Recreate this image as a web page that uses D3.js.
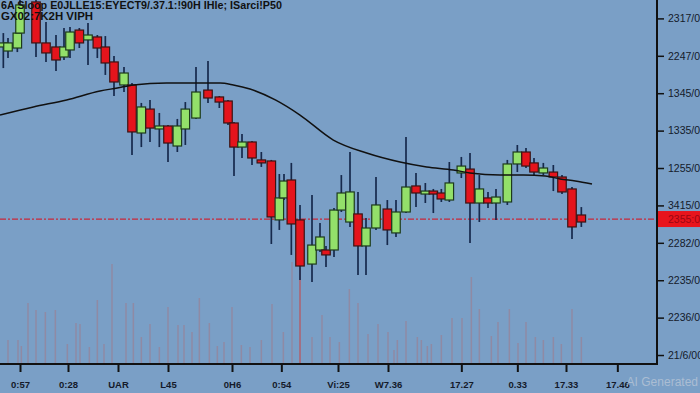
<!DOCTYPE html>
<html>
<head>
<meta charset="utf-8">
<script src="https://cdn.jsdelivr.net/npm/d3@7"></script>
<style>
  html, body { margin: 0; padding: 0; background: #7a9fc6; }
  svg { display: block; }
  .axis text { font-family: "Liberation Sans", Arial, sans-serif; }
</style>
</head>
<body>
<div id="chart"></div>
<script>
// 캔들 데이터 (분 단위 시간, 가격)
const candleTime  = [5, 12, 26, 30, 54, 69, 84, 96, 105, 119, 132, 146, 158, 171, 186, 198, 212, 225, 239, 252, 266, 278, 294, 312, 329, 342, 351, 363, 378, 392, 407, 419, 426, 437, 450, 468, 480, 489, 501, 512, 525, 537, 549, 564, 581, 594, 609, 624, 638, 650, 662, 674, 692, 705, 719, 732, 744, 761, 776, 789, 801, 815, 830, 843, 858, 872];
const candleOpen  = [2205.9, 2203.2, 2205.2, 2215.2, 2236.0, 2208.6, 2205.9, 2199.2, 2203.9, 2217.2, 2210.6, 2212.6, 2205.9, 2195.9, 2180.5, 2180.5, 2148.4, 2164.4, 2151.1, 2153.1, 2139.7, 2151.1, 2158.4, 2177.1, 2172.5, 2169.8, 2155.1, 2139.0, 2142.4, 2130.4, 2129.7, 2090.3, 2105.0, 2117.0, 2090.3, 2060.8, 2070.2, 2070.2, 2070.2, 2096.9, 2088.9, 2094.3, 2072.9, 2084.9, 2097.6, 2081.6, 2095.6, 2113.0, 2107.6, 2109.6, 2108.3, 2103.6, 2121.7, 2124.3, 2101.6, 2105.0, 2101.6, 2102.3, 2127.7, 2135.7, 2128.4, 2121.7, 2122.3, 2119.0, 2111.0, 2093.6];
const candleHigh  = [2215.2, 2211.9, 2217.2, 2237.3, 2237.3, 2222.6, 2213.9, 2218.6, 2219.3, 2218.6, 2221.9, 2213.9, 2213.2, 2199.9, 2192.5, 2181.8, 2168.5, 2170.5, 2161.8, 2153.7, 2157.8, 2169.1, 2192.5, 2196.5, 2173.1, 2170.5, 2155.8, 2147.7, 2143.1, 2135.7, 2130.4, 2121.0, 2121.0, 2128.4, 2100.3, 2107.0, 2088.2, 2072.9, 2098.3, 2120.3, 2135.7, 2109.0, 2091.6, 2119.0, 2103.6, 2103.6, 2145.7, 2121.7, 2115.0, 2111.0, 2111.0, 2129.0, 2132.4, 2135.0, 2120.3, 2109.0, 2111.0, 2130.4, 2140.4, 2138.4, 2131.7, 2128.4, 2127.0, 2120.3, 2112.3, 2098.9];
const candleLow   = [2191.8, 2198.5, 2202.5, 2211.9, 2199.2, 2195.9, 2189.8, 2197.2, 2198.5, 2205.2, 2193.9, 2198.5, 2187.2, 2173.1, 2175.8, 2133.7, 2139.0, 2142.4, 2139.0, 2129.0, 2135.7, 2140.4, 2157.8, 2168.5, 2165.1, 2153.7, 2119.7, 2131.7, 2127.0, 2125.7, 2074.2, 2083.6, 2103.6, 2066.9, 2050.1, 2048.8, 2068.9, 2058.8, 2065.5, 2095.6, 2085.6, 2053.5, 2053.5, 2083.6, 2073.5, 2078.9, 2094.9, 2098.9, 2101.6, 2094.9, 2102.3, 2102.3, 2118.3, 2074.9, 2088.9, 2098.3, 2090.3, 2100.3, 2122.3, 2125.0, 2120.3, 2120.3, 2109.6, 2107.6, 2077.6, 2085.6];
const candleClose = [2208.6, 2208.6, 2215.2, 2234.0, 2208.6, 2201.9, 2197.2, 2205.9, 2215.9, 2208.6, 2213.9, 2205.2, 2195.2, 2182.5, 2188.5, 2149.1, 2165.8, 2151.7, 2153.1, 2141.7, 2153.1, 2164.4, 2175.8, 2171.8, 2169.1, 2155.1, 2139.0, 2142.4, 2131.7, 2128.4, 2092.3, 2105.0, 2116.3, 2087.6, 2059.5, 2073.5, 2078.9, 2066.9, 2096.9, 2108.3, 2109.0, 2072.9, 2084.9, 2100.3, 2083.6, 2095.6, 2112.3, 2108.3, 2109.6, 2107.6, 2104.3, 2115.0, 2126.3, 2101.6, 2111.0, 2101.6, 2105.6, 2127.7, 2135.7, 2126.3, 2122.3, 2125.0, 2119.0, 2109.0, 2085.6, 2088.9];

// 이동평균선
const maTime  = [0, 50, 100, 150, 176, 200, 250, 300, 330, 350, 375, 413, 450, 500, 550, 600, 640, 680, 705, 750, 785, 818, 840, 863, 888];
const maValue = [2160.4, 2165.8, 2170.5, 2176.5, 2178.5, 2180.5, 2181.8, 2181.8, 2181.8, 2180.5, 2177.8, 2170.5, 2160.4, 2143.7, 2135.0, 2129.0, 2125.7, 2123.7, 2121.7, 2120.3, 2120.3, 2119.7, 2117.7, 2116.3, 2114.3];

// 거래량
const volTime  = [12, 27, 32, 42, 54, 68, 83, 101, 114, 120, 134, 146, 156, 168, 189, 200, 212, 225, 239, 252, 267, 276, 288, 299, 314, 326, 336, 348, 362, 375, 392, 408, 425, 438, 450, 468, 483, 495, 509, 524, 537, 552, 567, 582, 591, 596, 609, 626, 632, 641, 647, 662, 678, 693, 707, 719, 737, 747, 764, 777, 789, 803, 815, 830, 842, 858, 872];
const volValue = [120, 120, 90, 305, 270, 260, 270, 100, 205, 200, 85, 320, 100, 500, 305, 305, 135, 200, 85, 285, 195, 195, 160, 330, 205, 90, 110, 285, 95, 85, 120, 300, 160, 510, 480, 135, 245, 135, 110, 375, 305, 150, 200, 160, 70, 120, 215, 135, 120, 90, 100, 145, 230, 230, 435, 275, 140, 210, 275, 105, 210, 135, 120, 135, 100, 275, 135];

// 축 라벨
const xTickTime  = [30, 102, 177, 252, 348, 422, 507, 582, 692, 776, 849, 926];
const xTickLabel = ["0:57", "0:28", "UAR", "L45", "0H6", "0:54", "Vi:25", "W7.36", "17.27", "0.33", "17.33", "17.46"];
const yTickValue = [2225, 2200, 2175, 2150, 2125, 2100, 2075, 2050, 2025, 2000];
const yTickLabel = ["2317/00", "2247/00", "1345/00", "1335/00", "1255/00", "3415/00", "2282/00", "2235/00", "2236/00", "21/6/00"];
const lastPrice = 2090.9;
const lastLabel = "2355:00";
const titleLines = ["6A Sloop E0JLLE15:EYECT9/.37.1:!90H IHle; ISarci!P50", "GX02:7K2H VIPH"];

const W = 700, H = 393;
const plotR = 657, plotB = 364;

const svg = d3.select("#chart").append("svg")
  .attr("width", W).attr("height", H)
  .attr("viewBox", `0 0 ${W} ${H}`);

svg.append("rect").attr("width", W).attr("height", H).attr("fill", "#7a9fc6");

const x = d3.scaleLinear().domain([0, 985.5]).range([0, plotR]);
const y = d3.scaleLinear().domain([1994, 2237.3]).range([plotB, 0]);
const yVol = d3.scaleLinear().domain([0, 1000]).range([plotB, plotB - 200]);

// === 거래량
const vols = volTime.map((t, i) => ({ t, v: volValue[i] }));
svg.append("g").selectAll("line").data(vols).join("line")
  .attr("x1", d => x(d.t)).attr("x2", d => x(d.t))
  .attr("y1", plotB).attr("y2", d => yVol(d.v))
  .attr("stroke", d => d.t === 450 ? "#b0606e" : "#8f8aa4")
  .attr("stroke-width", 1.5);

// === 현재가 라인
svg.append("line")
  .attr("x1", 0).attr("x2", plotR)
  .attr("y1", y(lastPrice)).attr("y2", y(lastPrice))
  .attr("stroke", "#c8283a").attr("stroke-width", 1.3)
  .attr("stroke-dasharray", "6,2,2,2");

// === 캔들
const candles = candleTime.map((t, i) => ({
  t, o: candleOpen[i], h: candleHigh[i], l: candleLow[i], c: candleClose[i]
}));
const bodyW = 8.5;
const cg = svg.append("g");
cg.selectAll("line.wick").data(candles).join("line")
  .attr("class", "wick")
  .attr("x1", d => x(d.t)).attr("x2", d => x(d.t))
  .attr("y1", d => y(d.h)).attr("y2", d => y(d.l))
  .attr("stroke", "#16294c").attr("stroke-width", 1.7);
cg.selectAll("rect.body").data(candles).join("rect")
  .attr("class", "body")
  .attr("x", d => x(d.t) - bodyW / 2)
  .attr("width", bodyW)
  .attr("y", d => y(Math.max(d.o, d.c)))
  .attr("height", d => Math.max(2, Math.abs(y(d.o) - y(d.c))))
  .attr("fill", d => d.c >= d.o ? "#93e06a" : "#e5141c")
  .attr("stroke", d => d.c >= d.o ? "#1d3a1c" : "#3a1414")
  .attr("stroke-width", 1.2);

// === 이동평균
const ma = maTime.map((t, i) => ({ t, v: maValue[i] }));
svg.append("path").datum(ma)
  .attr("fill", "none").attr("stroke", "#111").attr("stroke-width", 1.5)
  .attr("d", d3.line().curve(d3.curveMonotoneX).x(d => x(d.t)).y(d => y(d.v)));

// === 축
const xAxis = svg.append("g").attr("class", "axis")
  .attr("transform", `translate(0,${plotB})`)
  .call(d3.axisBottom(x).tickValues(xTickTime)
    .tickFormat((d, i) => xTickLabel[i]).tickSizeInner(8).tickSizeOuter(0).tickPadding(9));
xAxis.select(".domain").attr("stroke", "#111").attr("stroke-width", 2).attr("d", `M0,0H${plotR}`);
xAxis.selectAll(".tick line").attr("stroke", "#111").attr("stroke-width", 2);
xAxis.selectAll(".tick text").attr("fill", "#141a2a").attr("font-size", 9.5).attr("font-weight", 600);

const yAxis = svg.append("g").attr("class", "axis")
  .attr("transform", `translate(${plotR},0)`)
  .call(d3.axisRight(y).tickValues(yTickValue)
    .tickFormat((d, i) => yTickLabel[i]).tickSizeInner(7).tickSizeOuter(0).tickPadding(4));
yAxis.select(".domain").attr("stroke", "#111").attr("stroke-width", 2).attr("d", `M0,0V${plotB + 1}`);
yAxis.selectAll(".tick line").attr("stroke", "#111").attr("stroke-width", 1.5);
yAxis.selectAll(".tick text").attr("fill", "#141a2a").attr("font-size", 10.5);

// 현재가 라벨 박스
const ly = y(lastPrice);
svg.append("rect").attr("x", plotR + 1).attr("y", ly - 8).attr("width", W - plotR).attr("height", 16)
  .attr("fill", "#e8141c");
svg.append("text").attr("x", plotR + 11).attr("y", ly + 4)
  .attr("font-family", "Liberation Sans, Arial, sans-serif").attr("font-size", 10.5)
  .attr("fill", "#9a0612").text(lastLabel);

// === 제목
svg.append("text").attr("x", 1).attr("y", 9)
  .attr("font-family", "Liberation Sans, Arial, sans-serif").attr("font-size", 10.5).attr("font-weight", "bold")
  .attr("fill", "#111").attr("textLength", 281).attr("lengthAdjust", "spacingAndGlyphs")
  .text(titleLines[0]);
svg.append("text").attr("x", 1).attr("y", 20)
  .attr("font-family", "Liberation Sans, Arial, sans-serif").attr("font-size", 10.5).attr("font-weight", "bold")
  .attr("fill", "#111").attr("textLength", 92).attr("lengthAdjust", "spacingAndGlyphs")
  .text(titleLines[1]);

// 워터마크
svg.append("text").attr("x", 698).attr("y", 386).attr("text-anchor", "end")
  .attr("font-family", "Liberation Sans, Arial, sans-serif").attr("font-size", 12)
  .attr("fill", "#b4c3d6").attr("opacity", 0.85).text("AI Generated");
</script>
</body>
</html>
